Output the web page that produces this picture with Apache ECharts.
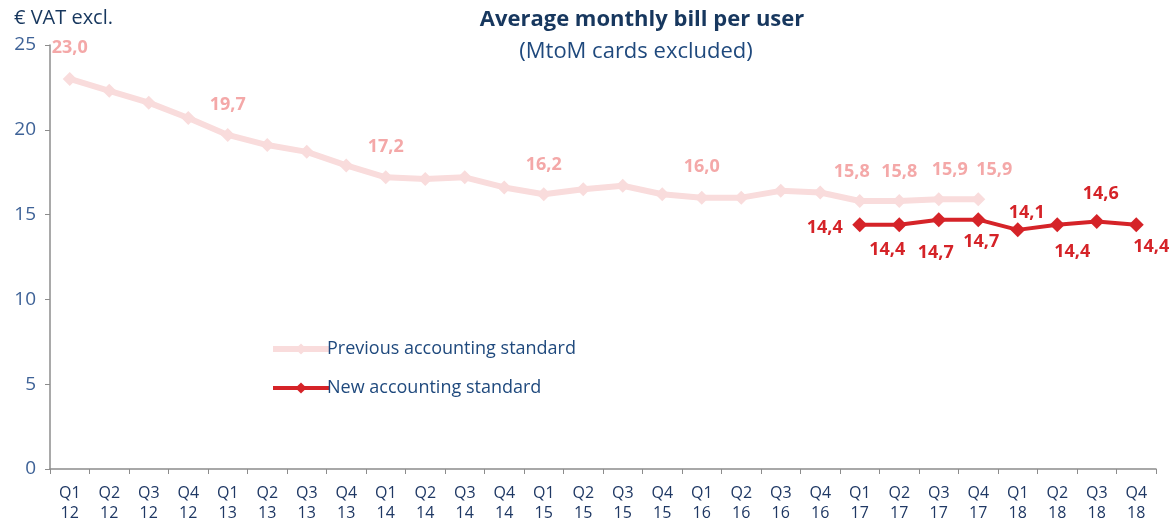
<!DOCTYPE html>
<html>
<head>
<meta charset="utf-8">
<script src="https://cdn.jsdelivr.net/npm/echarts@6/dist/echarts.min.js"></script>
<style>
  html, body { margin: 0; padding: 0; background: #fff; }
  #chart { width: 1172px; height: 524px; }
</style>
</head>
<body>
<div id="chart"></div>
<script>
// Quarter labels (quarter / two-digit year)
const quarters = ['Q1','Q2','Q3','Q4','Q1','Q2','Q3','Q4','Q1','Q2','Q3','Q4','Q1','Q2','Q3','Q4',
                  'Q1','Q2','Q3','Q4','Q1','Q2','Q3','Q4','Q1','Q2','Q3','Q4'];
const years = ['12','12','12','12','13','13','13','13','14','14','14','14','15','15','15','15',
               '16','16','16','16','17','17','17','17','18','18','18','18'];

// Average monthly bill per user, € VAT excl.
const previousStandard = [23.0, 22.3, 21.6, 20.7, 19.7, 19.1, 18.7, 17.9, 17.2, 17.1, 17.2, 16.6,
                          16.2, 16.5, 16.7, 16.2, 16.0, 16.0, 16.4, 16.3, 15.8, 15.8, 15.9, 15.9];
const newStandard = [14.4, 14.4, 14.7, 14.7, 14.1, 14.4, 14.6, 14.4];
const newStart = 20; // Q1 17

// Points of the previous series that carry a value label
const previousLabelled = [0, 4, 8, 12, 16, 20, 21, 22, 23];

const yTicks = [0, 5, 10, 15, 20, 25];

// Label placement (pixel offsets from each point)
const prevLabelOffsets = {0: [0, -31], 4: [0, -30], 8: [0, -30], 12: [0, -29], 16: [0, -31],
                          20: [-8, -29], 21: [0, -29], 22: [11, -29], 23: [16, -29]};
const newLabelOffsets = [[-35, 3], [-12, 25], [-3, 33], [3, 22], [9, -17], [15, 27], [4, -28], [15, 22]];

const fmt = v => v.toFixed(1).replace('.', ',');
const FONT = '"Open Sans", "Noto Sans", sans-serif';
const PREV_LINE = '#f9dcdc';
const PREV_LABEL = '#f4a8a8';
const NEW_COLOR = '#d52328';

const categories = quarters.map((q, i) => q + '\n' + years[i]);

const prevData = previousStandard.map((v, i) => {
  const item = { value: v };
  if (previousLabelled.includes(i)) {
    item.label = { show: true, offset: prevLabelOffsets[i] };
  }
  return item;
});

const newData = categories.map((c, i) => {
  if (i < newStart) return '-';
  const k = i - newStart;
  return { value: newStandard[k], label: { show: true, offset: newLabelOffsets[k] } };
});

const chart = echarts.init(document.getElementById('chart'), null, { renderer: 'canvas' });
chart.setOption({
  animation: false,
  backgroundColor: '#ffffff',
  textStyle: { fontFamily: FONT },
  title: [
    {
      text: 'Average monthly bill per user',
      left: 637,
      top: 4,
      textAlign: 'center',
      textStyle: { fontFamily: FONT, fontSize: 22, fontWeight: 'bold', color: '#17375e' }
    },
    {
      text: '(MtoM cards excluded)',
      left: 631,
      top: 36,
      textAlign: 'center',
      textStyle: { fontFamily: FONT, fontSize: 22, fontWeight: 'normal', color: '#1f497d' }
    }
  ],
  legend: {
    orient: 'vertical',
    left: 265,
    top: 335,
    itemWidth: 56,
    itemHeight: 14,
    itemGap: 21,
    lineStyle: { width: 'inherit' },
    textStyle: { fontFamily: FONT, fontSize: 18, color: '#1f497d', padding: [0, 0, 0, -7] },
    data: ['Previous accounting standard', 'New accounting standard']
  },
  grid: { left: 50, right: 16, top: 45, bottom: 55, containLabel: false },
  xAxis: {
    type: 'category',
    data: categories,
    boundaryGap: true,
    axisLine: { lineStyle: { color: '#8c8c8c', width: 1.5 } },
    axisTick: { show: true, length: 5, inside: false, lineStyle: { color: '#8c8c8c' } },
    axisLabel: { interval: 0, margin: 14, fontFamily: FONT, fontSize: 16, lineHeight: 20, color: '#1f3864' }
  },
  yAxis: {
    type: 'value',
    min: yTicks[0],
    max: yTicks[yTicks.length - 1],
    interval: yTicks[1] - yTicks[0],
    name: '€ VAT excl.',
    nameLocation: 'end',
    nameGap: 17,
    nameTextStyle: { fontFamily: FONT, fontSize: 20, color: '#17375e', align: 'left', padding: [0, 0, 0, -36] },
    splitLine: { show: false },
    axisLine: { show: true, lineStyle: { color: '#8c8c8c', width: 1.5 } },
    axisTick: { show: true, length: 5, lineStyle: { color: '#8c8c8c' } },
    axisLabel: { margin: 14, fontFamily: FONT, fontSize: 19, color: '#3e6297' }
  },
  series: [
    {
      name: 'Previous accounting standard',
      type: 'line',
      data: prevData,
      symbol: 'diamond',
      symbolSize: 14,
      lineStyle: { color: PREV_LINE, width: 6 },
      itemStyle: { color: PREV_LINE },
      label: {
        show: false,
        position: 'inside',
        formatter: p => fmt(p.value),
        fontFamily: FONT, fontSize: 18, fontWeight: 'bold', color: PREV_LABEL
      },
      z: 2
    },
    {
      name: 'New accounting standard',
      type: 'line',
      data: newData,
      symbol: 'diamond',
      symbolSize: 15,
      lineStyle: { color: NEW_COLOR, width: 4 },
      itemStyle: { color: NEW_COLOR },
      label: {
        show: true,
        position: 'inside',
        formatter: p => fmt(p.value),
        fontFamily: FONT, fontSize: 18, fontWeight: 'bold', color: NEW_COLOR
      },
      z: 3
    }
  ]
});
</script>
</body>
</html>
